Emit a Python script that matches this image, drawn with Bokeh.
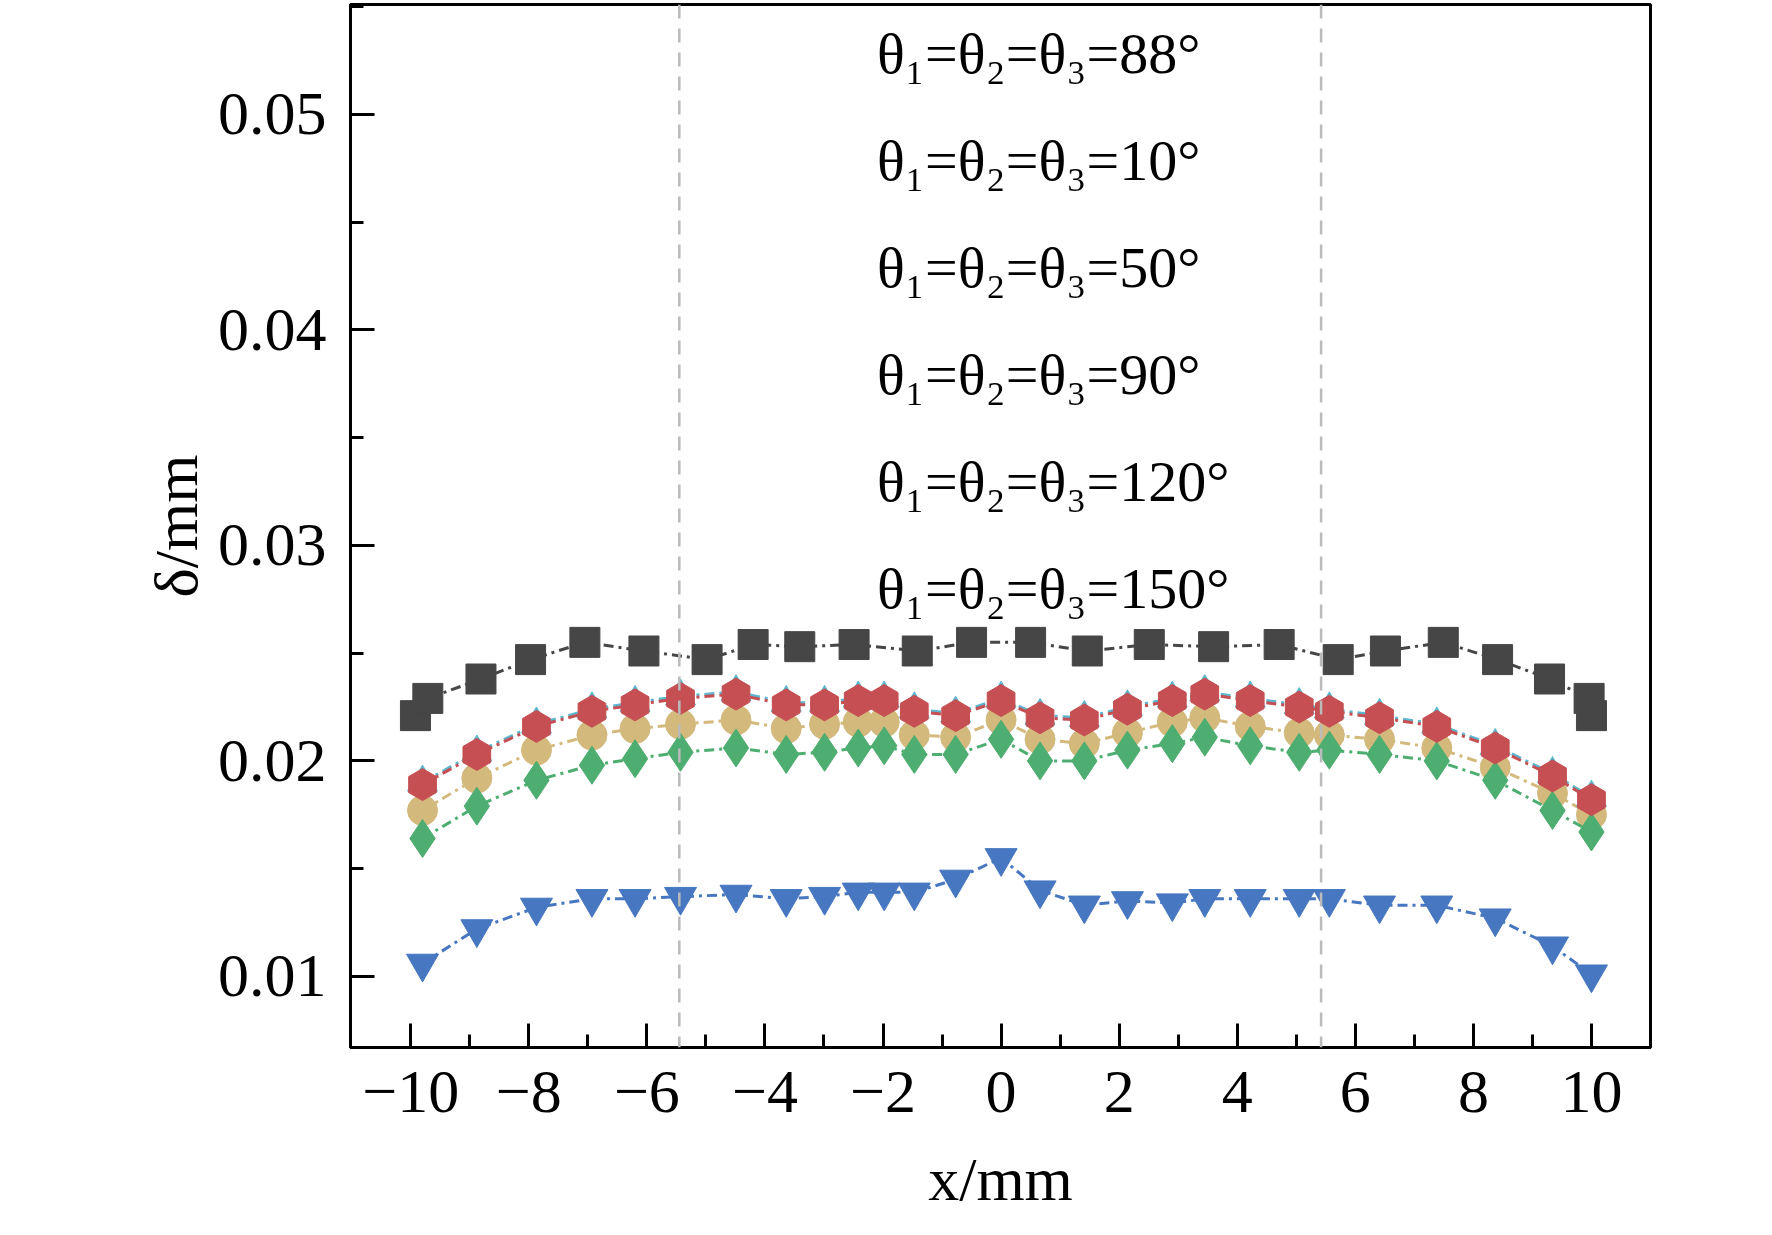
from bokeh.plotting import figure
from bokeh.models import Span, Legend, LegendItem, FixedTicker
from bokeh.embed import file_html
from bokeh.resources import INLINE

# positions of the 88 deg series
x_88 = [-9.92, -9.71, -8.81, -7.97, -7.05, -6.05, -4.98, -4.20, -3.41, -2.49, -1.42, -0.50,
        0.50, 1.46, 2.51, 3.60, 4.71, 5.71, 6.51, 7.49, 8.41, 9.29, 9.96, 10.0]
d_88 = [0.0221, 0.0229, 0.0238, 0.0247, 0.0255, 0.0251, 0.0247, 0.0254, 0.0253, 0.0254, 0.0251, 0.0255,
        0.0255, 0.0251, 0.0254, 0.0253, 0.0254, 0.0247, 0.0251, 0.0255, 0.0247, 0.0238, 0.0229, 0.0221]

# positions shared by the other series
x_pts = [-9.80, -8.88, -7.87, -6.93, -6.20, -5.43, -4.49, -3.64, -2.99, -2.42, -1.98, -1.47, -0.77,
         0.0, 0.66, 1.41, 2.14, 2.90, 3.45, 4.22, 5.05, 5.56, 6.41, 7.38, 8.37, 9.34, 10.0]
d_10 = [0.0177, 0.0192, 0.0205, 0.0212, 0.0215, 0.0217, 0.0219, 0.0215, 0.0217, 0.0218, 0.0218, 0.0212, 0.0211,
        0.0219, 0.0210, 0.0208, 0.0213, 0.0218, 0.0220, 0.0216, 0.0213, 0.0212, 0.0210, 0.0206, 0.0197, 0.0185, 0.0175]
d_50 = [0.0190, 0.0204, 0.0217, 0.0224, 0.0227, 0.0230, 0.0232, 0.0227, 0.0227, 0.0229, 0.0229, 0.0224, 0.0222,
        0.0229, 0.0221, 0.0220, 0.0225, 0.0229, 0.0232, 0.0229, 0.0226, 0.0224, 0.0221, 0.0217, 0.0207, 0.0194, 0.0183]
d_90 = [0.0106, 0.0122, 0.0132, 0.0136, 0.0136, 0.0137, 0.0138, 0.0136, 0.0137, 0.0139, 0.0139, 0.0139, 0.0145,
        0.0155, 0.0140, 0.0133, 0.0135, 0.0134, 0.0136, 0.0136, 0.0136, 0.0136, 0.0133, 0.0133, 0.0127, 0.0114, 0.0101]
d_120 = [0.0164, 0.0179, 0.0191, 0.0198, 0.0201, 0.0204, 0.0206, 0.0203, 0.0204, 0.0206, 0.0207, 0.0203, 0.0203,
         0.0210, 0.0200, 0.0200, 0.0205, 0.0208, 0.0211, 0.0207, 0.0204, 0.0205, 0.0203, 0.0200, 0.0191, 0.0177, 0.0167]
d_150 = [0.0189, 0.0203, 0.0216, 0.0223, 0.0226, 0.0229, 0.0231, 0.0226, 0.0226, 0.0228, 0.0228, 0.0223, 0.0221,
         0.0228, 0.0220, 0.0219, 0.0224, 0.0228, 0.0231, 0.0228, 0.0225, 0.0223, 0.0220, 0.0216, 0.0206, 0.0193, 0.0182]

labels = ["θ₁=θ₂=θ₃=88°", "θ₁=θ₂=θ₃=10°", "θ₁=θ₂=θ₃=50°", "θ₁=θ₂=θ₃=90°", "θ₁=θ₂=θ₃=120°", "θ₁=θ₂=θ₃=150°"]
x_ticks = [-10, -8, -6, -4, -2, 0, 2, 4, 6, 8, 10]
y_ticks = [0.01, 0.02, 0.03, 0.04, 0.05]
guides = [-5.45, 5.42]

FONT = "Liberation Serif"

p = figure(width=1750, height=1215, x_range=(-11.02, 11.0), y_range=(0.0067, 0.0551),
           output_backend="svg", toolbar_location=None,
           min_border_left=350, min_border_right=100, min_border_top=4, min_border_bottom=160)
p.grid.visible = False
p.outline_line_color = "black"
p.outline_line_width = 3
p.background_fill_color = "white"

for g in guides:
    p.add_layout(Span(location=g, dimension="height", line_color="#bbbbbb", line_width=2.5, line_dash="14 10"))

series = [
    (x_88, d_88, "#464646", "square", 30),
    (x_pts, d_10, "#d3b97c", "circle", 30),
    (x_pts, d_50, "#5cb6cf", "triangle", 30),
    (x_pts, d_90, "#4777c0", "inverted_triangle", 32),
    (x_pts, d_120, "#4ead70", "diamond", 38),
    (x_pts, d_150, "#c54f52", "hex", 32),
]
items = []
for (xs, ys, col, mk, sz), lab in zip(series, labels):
    p.line(xs, ys, line_color=col, line_width=3, line_dash="10 5 3 5")
    ang = 0.5236 if mk == "hex" else 0.0
    p.scatter(xs, ys, marker=mk, size=sz, fill_color=col, line_color=col, angle=ang)
    # legend-only glyphs: solid line and a large marker
    ll = p.line([], [], line_color=col, line_width=3)
    lm = p.scatter([], [], marker=mk, size=sz, fill_color=col, line_color=col, angle=ang)
    items.append(LegendItem(label=lab, renderers=[ll, lm]))

legend = Legend(items=items, location=(365, 415), background_fill_alpha=0, border_line_alpha=0,
                label_text_font=FONT, label_text_font_size="58px", label_text_color="black",
                glyph_width=130, glyph_height=44, spacing=40, label_standoff=22)
p.add_layout(legend, "center")

minus = {v: (str(v).replace("-", "−")) for v in x_ticks}
p.xaxis.ticker = FixedTicker(ticks=x_ticks, minor_ticks=list(range(-10, 11)))
p.xaxis.major_label_overrides = minus
p.yaxis.ticker = FixedTicker(ticks=y_ticks, minor_ticks=[0.01 + 0.005 * i for i in range(10)])
for ax in (p.xaxis, p.yaxis):
    ax.axis_line_width = 3
    ax.major_tick_line_width = 3
    ax.minor_tick_line_width = 3
    ax.major_tick_in = 24
    ax.major_tick_out = 0
    ax.minor_tick_in = 13
    ax.minor_tick_out = 0
    ax.major_label_text_font = FONT
    ax.major_label_text_font_size = "62px"
    ax.major_label_text_color = "black"
    ax.axis_label_text_font = FONT
    ax.axis_label_text_font_size = "62px"
    ax.axis_label_text_font_style = "normal"
    ax.axis_label_text_color = "black"
    ax.major_label_standoff = 24
p.xaxis.axis_label = "x/mm"
p.xaxis.axis_label_standoff = 30
p.yaxis.axis_label = "δ/mm"
p.yaxis.major_label_orientation = "horizontal"

open("out.html", "w").write(file_html(p, INLINE))
